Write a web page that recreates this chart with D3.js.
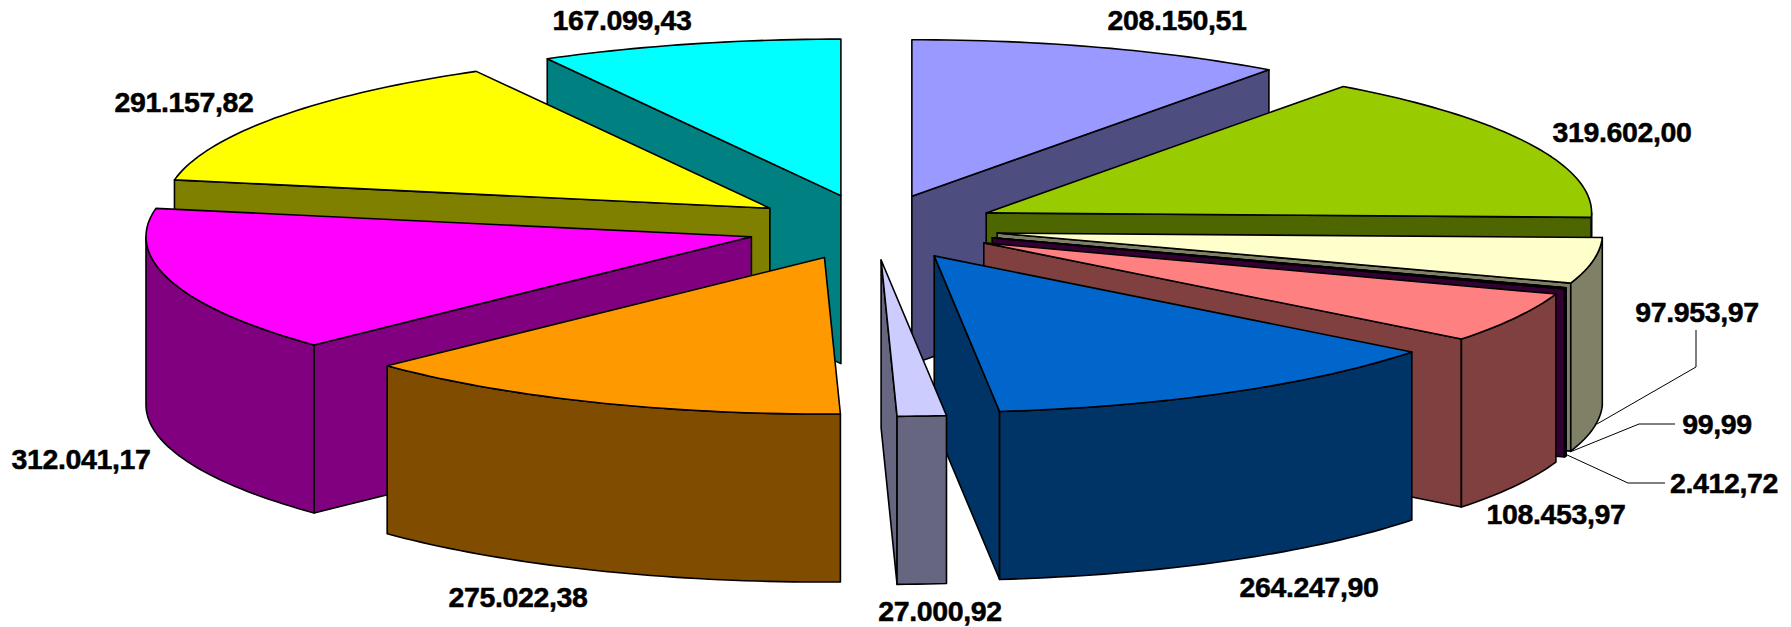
<!DOCTYPE html>
<html>
<head>
<meta charset="utf-8">
<script src="https://cdn.jsdelivr.net/npm/d3@7"></script>
<style>
  html, body { margin: 0; background: #fff; }
  text { font-family: "Liberation Sans", Arial, sans-serif; font-weight: bold; font-size: 28.5px; letter-spacing: -0.35px; fill: #000; stroke: #000; stroke-width: 0.5px; }
</style>
</head>
<body>
<div id="viz"></div>
<script>
// clockwise from 12 o'clock
const values = [208150.51, 319602.00, 97953.97, 99.99, 2412.72, 108453.97, 264247.90, 27000.92, 275022.38, 312041.17, 291157.82, 167099.43];
const topColors = ['#9999ff', '#99cc00', '#ffffcc', '#ccffff', '#660066', '#ff8080', '#0066cc', '#ccccff', '#ff9900', '#ff00ff', '#ffff00', '#00ffff'];
const sideColors = ['#4d4d80', '#4d6600', '#808066', '#668080', '#330033', '#804040', '#003366', '#666680', '#804d00', '#800080', '#808000', '#008080'];

// label centres, same order as values
const labelPos = [[1177, 20], [1622, 132], [1697, 312], [1717, 424], [1724, 483], [1556, 514], [1309, 587], [940, 611], [518, 597], [81, 459], [184, 102], [622, 20]];
const leaders = [
    [[1696, 330], [1696, 367], [1597, 424]],
    [[1675, 424], [1639, 424], [1570, 452]],
    [[1665, 483], [1628, 483], [1565, 454]]
];

const width = 1791;
const height = 627;
const depth = 168;
const explode = 0.209;

const svg = d3.select('#viz').append('svg')
    .attr('width', width)
    .attr('height', height)
    .style('display', 'block');

// unit circle -> flattened pie ellipse
const x = d3.scaleLinear().domain([-1, 1]).range([872.6 - 605.4, 872.6 + 605.4]);
const y = d3.scaleLinear().domain([-1, 1]).range([227.3 + 156.5, 227.3 - 156.5]);

const format = d3.formatLocale({ decimal: ',', thousands: '.', grouping: [3], currency: ['', ''] }).format(',.2f');

const slices = d3.pie().sort(null)(values).map((d, i) => {
    const mid = (d.startAngle + d.endAngle) / 2;
    return { i, value: d.value, a0: d.startAngle, a1: d.endAngle, mid, ox: explode * Math.sin(mid), oy: explode * Math.cos(mid) };
});

const rim = (s, a) => [x(s.ox + Math.sin(a)), y(s.oy + Math.cos(a))];
const tip = s => [x(s.ox), y(s.oy)];
const down = p => [p[0], p[1] + depth];
const line = d3.line();

function arcPoints(s, from, to) {
    const n = Math.max(2, Math.ceil((to - from) / 0.02));
    return d3.range(n + 1).map(k => rim(s, from + (to - from) * k / n));
}

function polygon(g, pts, fill) {
    g.append('path')
        .attr('d', line(pts) + 'Z')
        .attr('fill', fill)
        .attr('stroke', '#000')
        .attr('stroke-width', 1.6)
        .attr('stroke-linejoin', 'round');
}

// back slices first so the front ones cover them
const order = slices.slice().sort((a, b) => b.oy - a.oy);

order.forEach(s => {
    const g = svg.append('g');
    const side = sideColors[s.i];

    if (Math.sin(s.a0) < 0) {
        const p = rim(s, s.a0);
        polygon(g, [tip(s), p, down(p), down(tip(s))], side);
    }
    if (Math.sin(s.a1) > 0) {
        const p = rim(s, s.a1);
        polygon(g, [tip(s), p, down(p), down(tip(s))], side);
    }

    // outer wall, only the part that faces us
    const from = Math.max(s.a0, Math.PI / 2);
    const to = Math.min(s.a1, Math.PI * 3 / 2);
    if (to > from) {
        const arc = arcPoints(s, from, to);
        polygon(g, arc.concat(arc.map(down).reverse()), side);
    }

    polygon(g, [tip(s)].concat(arcPoints(s, s.a0, s.a1)), topColors[s.i]);
});

svg.selectAll('path.leader')
    .data(leaders)
    .enter()
    .append('path')
    .attr('class', 'leader')
    .attr('d', d => line(d))
    .attr('fill', 'none')
    .attr('stroke', '#000')
    .attr('stroke-width', 1);

svg.selectAll('text')
    .data(slices)
    .enter()
    .append('text')
    .attr('x', d => labelPos[d.i][0])
    .attr('y', d => labelPos[d.i][1])
    .attr('text-anchor', 'middle')
    .attr('dominant-baseline', 'central')
    .text(d => format(d.value));
</script>
</body>
</html>
